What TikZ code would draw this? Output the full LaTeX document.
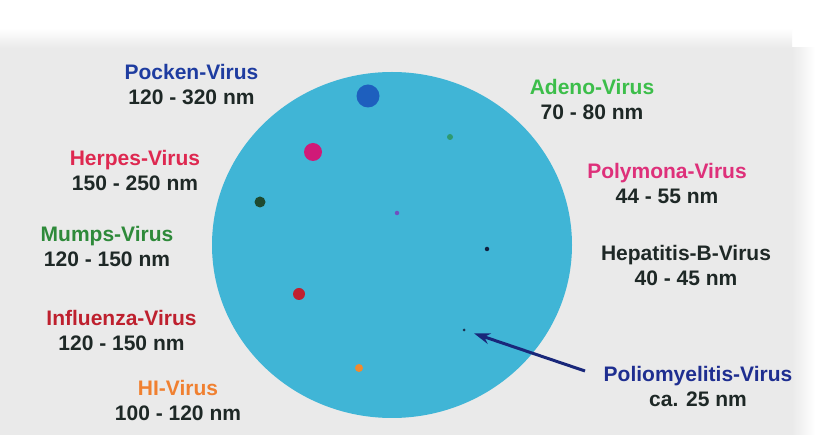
\documentclass[tikz,border=0pt]{standalone}
\usepackage{fontspec}
\setmainfont{Liberation Sans}
\usepackage{xcolor}
\usetikzlibrary{arrows.meta, positioning}

\definecolor{paper}{RGB}{234,234,234}
\definecolor{cellblue}{RGB}{64,181,214}
\definecolor{sizetext}{RGB}{30,40,38}
\definecolor{pockenc}{RGB}{30,60,160}
\definecolor{herpesc}{RGB}{222,40,80}
\definecolor{mumpsc}{RGB}{46,138,58}
\definecolor{influc}{RGB}{190,32,46}
\definecolor{hic}{RGB}{240,128,48}
\definecolor{adenoc}{RGB}{60,190,74}
\definecolor{polymc}{RGB}{222,48,122}
\definecolor{polioc}{RGB}{30,46,144}

\tikzset{
  virtext/.style={align=center, inner sep=0pt, text=sizetext,
    font=\fontsize{21}{25}\selectfont\bfseries},
  particle/.style={circle, inner sep=0pt, minimum size=#1}
}

\begin{document}
\begin{tikzpicture}[x=1pt, y=-1pt]
      \useasboundingbox (0,0) rectangle (815,435);
      % paper
      \fill[white] (0,0) rectangle (815,435);
      \fill[paper] (0,48) rectangle (792,435);
      \shade[top color=white, bottom color=paper] (0,28) rectangle (792,48);
      \shade[left color=paper, right color=white] (792,48) rectangle (815,435);

      % the cell
      \fill[cellblue] (392,245) ellipse [x radius=180, y radius=173];

      % virus particles
      \node[particle=23pt, fill={rgb,255:red,30;green,95;blue,190}] (pockendot) at (368,96) {};
      \node[particle=18pt, fill={rgb,255:red,208;green,26;blue,120}] (herpesdot) at (313,152) {};
      \node[particle=11pt, fill={rgb,255:red,30;green,74;blue,48}] (mumpsdot) at (260,202) {};
      \node[particle=6pt, fill={rgb,255:red,46;green,154;blue,112}] (adenodot) at (450,137) {};
      \node[particle=4.5pt, fill={rgb,255:red,112;green,80;blue,192}] (polymdot) at (397,213) {};
      \node[particle=4.5pt, fill={rgb,255:red,16;green,32;blue,64}] (hepdot) at (487,249) {};
      \node[particle=12pt, fill={rgb,255:red,192;green,32;blue,48}] (infludot) at (299,294) {};
      \node[particle=8pt, fill={rgb,255:red,240;green,138;blue,48}] (hidot) at (359,368) {};
      \node[particle=3pt, fill={rgb,255:red,26;green,48;blue,80}] (poliodot) at (464,330) {};

      % names and sizes
      \node[virtext] (pocken) at (191.5,84.5) {\textcolor{pockenc}{Pocken-Virus}\\120 - 320 nm};
      \node[virtext] (herpes) at (135,170) {\textcolor{herpesc}{Herpes-Virus}\\150 - 250 nm};
      \node[virtext] (mumps) at (107,246) {\textcolor{mumpsc}{Mumps-Virus}\\120 - 150 nm};
      \node[virtext] (influ) at (121.5,330.5) {\textcolor{influc}{Influenza-Virus}\\120 - 150 nm};
      \node[virtext] (hi) at (178,400.5) {\textcolor{hic}{HI-Virus}\\100 - 120 nm};
      \node[virtext] (adeno) at (592,99.5) {\textcolor{adenoc}{Adeno-Virus}\\70 - 80 nm};
      \node[virtext] (polym) at (667,183) {\textcolor{polymc}{Polymona-Virus}\\44 - 55 nm};
      \node[virtext] (hep) at (686,265.5) {Hepatitis-B-Virus\\40 - 45 nm};
      \node[virtext] (polio) at (698,386.5) {\textcolor{polioc}{Poliomyelitis-Virus}\\ca. 25 nm};

      \coordinate (poliotail) at (585,371);
      \draw[polioc!85!black, line width=3pt, shorten >=9pt,
        -{Stealth[length=16pt, width=11pt]}] (poliotail) -- (poliodot);
    \end{tikzpicture}
\end{document}
